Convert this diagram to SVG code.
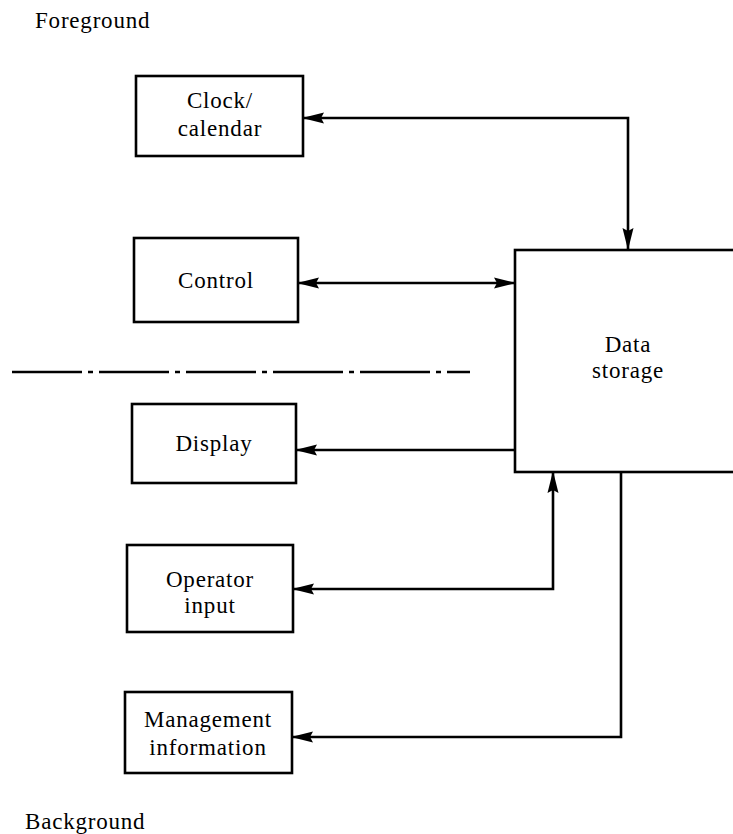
<svg xmlns="http://www.w3.org/2000/svg" width="733" height="834" viewBox="0 0 733 834">
  <style>
    .box { fill: #fff; stroke: #000; stroke-width: 2.6; }
    .lbl { font-family: "Liberation Serif", "Times New Roman", serif; font-size: 23px; letter-spacing: 0.8px; fill: #000; text-anchor: middle; }
    .side { font-family: "Liberation Serif", "Times New Roman", serif; font-size: 23px; letter-spacing: 0.8px; fill: #000; }
    .wire { fill: none; stroke: #000; stroke-width: 2.6; }
    .split { fill: none; stroke: #000; stroke-width: 2.5; stroke-dasharray: 70 6 5 6; }
  </style>
  <defs>
    <!-- long filled arrowhead -->
    <marker id="head" viewBox="0 0 22 12" refX="21" refY="6" markerWidth="22" markerHeight="12" markerUnits="userSpaceOnUse" orient="auto-start-reverse">
      <path d="M0,0.5 L22,6 L0,11.5 L3,6 z" fill="#000"/>
    </marker>
  </defs>

  <rect width="733" height="834" fill="#fff"/>

  <text class="side" x="35" y="28">Foreground</text>
  <text class="side" x="25" y="829">Background</text>

  <!-- foreground / background divider -->
  <line class="split" x1="12" y1="372" x2="470" y2="372"/>

  <g id="connectors">
    <path class="wire" d="M303,118 H628 V249" marker-start="url(#head)" marker-end="url(#head)"/>
    <path class="wire" d="M298,283 H515" marker-start="url(#head)" marker-end="url(#head)"/>
    <path class="wire" d="M296,450 H515" marker-start="url(#head)"/>
    <path class="wire" d="M293,589 H553 V472" marker-start="url(#head)" marker-end="url(#head)"/>
    <path class="wire" d="M292,737 H621 V472" marker-start="url(#head)"/>
  </g>

  <g id="clock">
    <rect class="box" x="136" y="76" width="167" height="80"/>
    <text class="lbl" x="220" y="108">Clock/</text>
    <text class="lbl" x="220" y="136">calendar</text>
  </g>

  <g id="control">
    <rect class="box" x="134" y="238" width="164" height="84"/>
    <text class="lbl" x="216" y="288">Control</text>
  </g>

  <g id="data-storage">
    <rect class="box" x="515" y="250" width="240" height="222"/>
    <text class="lbl" x="628" y="352">Data</text>
    <text class="lbl" x="628" y="378">storage</text>
  </g>

  <g id="display">
    <rect class="box" x="132" y="404" width="164" height="79"/>
    <text class="lbl" x="214" y="451">Display</text>
  </g>

  <g id="operator-input">
    <rect class="box" x="127" y="545" width="166" height="87"/>
    <text class="lbl" x="210" y="587">Operator</text>
    <text class="lbl" x="210" y="613">input</text>
  </g>

  <g id="management">
    <rect class="box" x="125" y="692" width="167" height="81"/>
    <text class="lbl" x="208" y="727">Management</text>
    <text class="lbl" x="208" y="755">information</text>
  </g>
</svg>
